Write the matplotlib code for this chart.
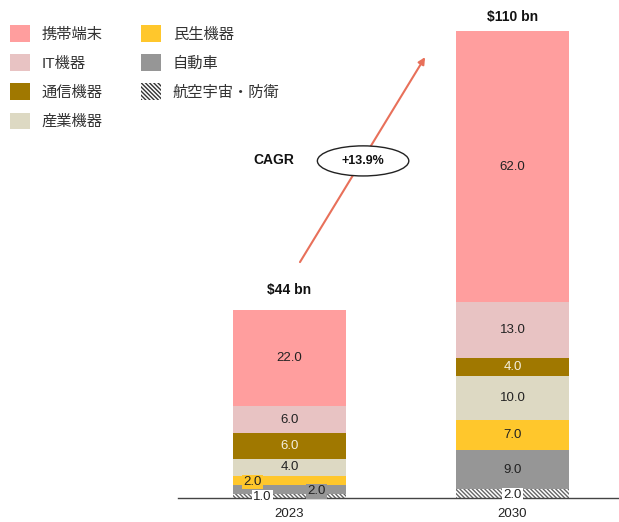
import matplotlib
matplotlib.use("Agg")
import matplotlib.pyplot as plt
from matplotlib.patches import Ellipse, Patch
import numpy as np

plt.rcParams['font.family'] = ['Liberation Sans', 'Noto Sans CJK JP', 'DejaVu Sans']
plt.rcParams['hatch.linewidth'] = 1.0

years = ['2023', '2030']
segments = ['航空宇宙・防衛', '自動車', '民生機器', '産業機器', '通信機器', 'IT機器', '携帯端末']
values = {
    '航空宇宙・防衛': [1.0, 2.0],
    '自動車': [2.0, 9.0],
    '民生機器': [2.0, 7.0],
    '産業機器': [4.0, 10.0],
    '通信機器': [6.0, 4.0],
    'IT機器': [6.0, 13.0],
    '携帯端末': [22.0, 62.0],
}
totals = ['$44 bn', '$110 bn']
cagr = '+13.9%'

colors = {
    '航空宇宙・防衛': 'white',
    '自動車': '#969696',
    '民生機器': '#FFC72C',
    '産業機器': '#DDD9C3',
    '通信機器': '#A07800',
    'IT機器': '#E8C3C3',
    '携帯端末': '#FF9E9E',
}
text_colors = {'通信機器': '#F5F0E0'}
hatch = '\\\\\\\\\\\\\\\\'

fig = plt.figure(figsize=(6.19, 5.22), dpi=100)
ax = fig.add_axes([178 / 619, 24 / 522, 441 / 619, 498 / 522])

x = np.arange(len(years))
width = 0.507
bottom = np.zeros(len(years))
for seg in segments:
    v = np.array(values[seg])
    if seg == '航空宇宙・防衛':
        ax.bar(x, v, width, bottom=bottom, color='white', edgecolor='#666666',
               lw=0, hatch=hatch, label=seg)
    else:
        ax.bar(x, v, width, bottom=bottom, color=colors[seg], lw=0, label=seg)
    for i in range(len(years)):
        cy = bottom[i] + v[i] / 2
        cx = x[i]
        bbox = None
        if seg == '航空宇宙・防衛':
            bbox = dict(boxstyle='square,pad=0.1', fc='white', ec='none')
            cy = bottom[i] + 0.2 if i == 0 else cy - 0.4
            if i == 0:
                cx = x[i] - 0.123
        elif i == 0 and seg == '自動車':
            bbox = dict(boxstyle='square,pad=0.1', fc=colors[seg], ec='none')
            cx = x[i] + 0.123
            cy = bottom[i] + 0.5
        elif i == 0 and seg == '民生機器':
            bbox = dict(boxstyle='square,pad=0.1', fc=colors[seg], ec='none')
            cx = x[i] - 0.168
            cy = bottom[i] + 0.7
        ax.text(cx, cy, f'{v[i]:.1f}', ha='center', va='center', fontsize=9.5,
                color=text_colors.get(seg, '#222222'), bbox=bbox, zorder=5)
    bottom += v

total_gap = [4.8, 3.2]
for i in range(len(years)):
    ax.text(x[i], bottom[i] + total_gap[i], totals[i], ha='center', va='center',
            fontsize=10, fontweight='bold', color='#111111')

# CAGR arrow
ax.annotate('', xy=(0.608, 101.1), xytext=(0.047, 54.1),
            arrowprops=dict(arrowstyle='-|>', color='#E8705A', lw=1.5,
                            mutation_scale=10, shrinkA=0, shrinkB=0), zorder=3)
ax.add_patch(Ellipse((0.33, 77.3), 0.41, 6.9, fc='white', ec='#222222', lw=1, zorder=4))
ax.text(0.33, 77.3, cagr, ha='center', va='center', fontsize=9,
        fontweight='bold', color='#111111', zorder=5)
ax.text(-0.07, 77.5, 'CAGR', ha='center', va='center', fontsize=10,
        fontweight='bold', color='#111111')

ax.set_xlim(-0.5, 1.4776)
ax.set_ylim(0, 114.2)
ax.set_xticks(x)
ax.set_xticklabels(years, fontsize=9.5, color='#222222')
ax.tick_params(axis='x', length=0, pad=7)
ax.set_yticks([])
for s in ['top', 'right', 'left']:
    ax.spines[s].set_visible(False)
ax.spines['bottom'].set_color('#444444')
ax.spines['bottom'].set_linewidth(1)

order = ['携帯端末', 'IT機器', '通信機器', '産業機器', '民生機器', '自動車', '航空宇宙・防衛']
handles = []
for seg in order:
    if seg == '航空宇宙・防衛':
        handles.append(Patch(facecolor='white', edgecolor='#333333', lw=0,
                             hatch=hatch, label=seg))
    else:
        handles.append(Patch(facecolor=colors[seg], lw=0, label=seg))
fig.legend(handles=handles, ncol=2, loc='upper left',
           bbox_to_anchor=(4 / 619, 1 - 19 / 522),
           frameon=False, fontsize=11, handlelength=1.3, handleheight=1.3,
           handletextpad=0.78, labelspacing=0.82, columnspacing=2.5,
           labelcolor='#333333', borderaxespad=0)

fig.savefig('out.png', dpi=100)
